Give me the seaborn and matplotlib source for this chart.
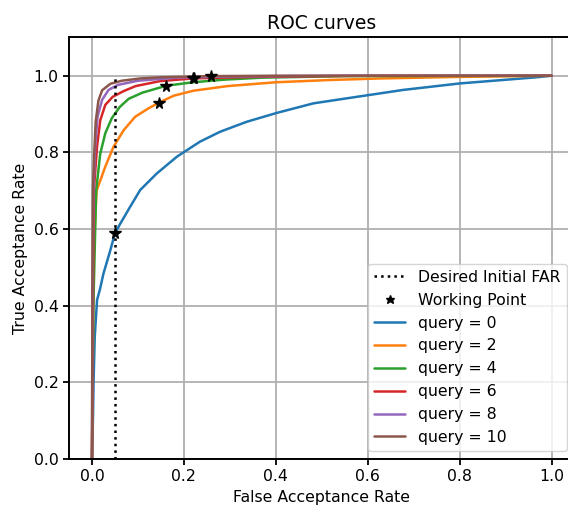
import matplotlib
matplotlib.use('Agg')
import matplotlib.pyplot as plt
import seaborn as sns
import pandas as pd

# ROC curves (FAR, TAR) per query count
queries = [0, 2, 4, 6, 8, 10]

far_q0 = [0.0, 0.002, 0.0035, 0.006, 0.011, 0.017, 0.025, 0.040, 0.050, 0.062, 0.083, 0.105,
          0.141, 0.185, 0.235, 0.279, 0.337, 0.402, 0.482, 0.554, 0.627, 0.677, 0.801, 0.895, 0.967, 1.0]
tar_q0 = [0.0, 0.10, 0.206, 0.319, 0.415, 0.441, 0.484, 0.545, 0.589, 0.615, 0.658, 0.702,
          0.745, 0.789, 0.828, 0.854, 0.880, 0.903, 0.928, 0.941, 0.954, 0.963, 0.980, 0.989, 0.996, 1.0]

far_q2 = [0.0, 0.002, 0.004, 0.010, 0.029, 0.047, 0.069, 0.094, 0.123, 0.146, 0.178, 0.221,
          0.295, 0.400, 0.520, 0.630, 0.800, 1.0]
tar_q2 = [0.0, 0.30, 0.55, 0.70, 0.763, 0.815, 0.858, 0.893, 0.915, 0.930, 0.948, 0.961,
          0.973, 0.983, 0.989, 0.993, 0.997, 1.0]

far_q4 = [0.0, 0.003, 0.009, 0.018, 0.029, 0.043, 0.060, 0.080, 0.110, 0.162, 0.220, 0.290,
          0.370, 0.550, 1.0]
tar_q4 = [0.0, 0.40, 0.70, 0.797, 0.850, 0.889, 0.918, 0.940, 0.956, 0.974, 0.983, 0.990,
          0.995, 0.999, 1.0]

far_q6 = [0.0, 0.002, 0.004, 0.011, 0.018, 0.029, 0.045, 0.069, 0.095, 0.148, 0.220, 0.350, 0.600, 1.0]
tar_q6 = [0.0, 0.40, 0.70, 0.815, 0.884, 0.924, 0.945, 0.960, 0.973, 0.986, 0.993, 0.997, 1.0, 1.0]

far_q8 = [0.0, 0.001, 0.003, 0.007, 0.012, 0.022, 0.036, 0.056, 0.100, 0.185, 0.300, 0.500, 1.0]
tar_q8 = [0.0, 0.40, 0.70, 0.815, 0.893, 0.937, 0.963, 0.976, 0.987, 0.995, 0.998, 1.0, 1.0]

far_q10 = [0.0, 0.001, 0.002, 0.005, 0.008, 0.014, 0.022, 0.040, 0.065, 0.105, 0.150, 0.258, 0.400, 1.0]
tar_q10 = [0.0, 0.45, 0.70, 0.80, 0.88, 0.935, 0.962, 0.979, 0.987, 0.993, 0.996, 0.999, 1.0, 1.0]

# working points (one per query)
wp_far = [0.050, 0.146, 0.162, 0.220, 0.221, 0.258]
wp_tar = [0.589, 0.930, 0.974, 0.993, 0.995, 0.999]

desired_far = 0.05

curves = {0: (far_q0, tar_q0), 2: (far_q2, tar_q2), 4: (far_q4, tar_q4),
          6: (far_q6, tar_q6), 8: (far_q8, tar_q8), 10: (far_q10, tar_q10)}

rows = []
for q in queries:
    fx, ty = curves[q]
    for a, b in zip(fx, ty):
        rows.append({'far': a, 'tar': b, 'query': f'query = {q}'})
df = pd.DataFrame(rows)

sns.set_style('ticks', {'axes.grid': True, 'axes.edgecolor': 'black',
                        'grid.color': '#b0b0b0', 'text.color': 'black',
                        'xtick.color': 'black', 'ytick.color': 'black',
                        'axes.labelcolor': 'black'})
plt.rcParams['font.family'] = ['DejaVu Sans']
plt.rcParams['grid.linewidth'] = 1.3
plt.rcParams['axes.linewidth'] = 1.4
plt.rcParams['xtick.major.size'] = 4
plt.rcParams['ytick.major.size'] = 4
plt.rcParams['xtick.major.width'] = 1.3
plt.rcParams['ytick.major.width'] = 1.3
plt.rcParams['xtick.labelsize'] = 11.3
plt.rcParams['ytick.labelsize'] = 11.3

fig = plt.figure(figsize=(5.68, 5.07), dpi=100)
# axes runs a bit past the right edge, like the cropped reference
ax = fig.add_axes([0.1215, 0.0947, 0.890, 0.8315])

hue_order = [f'query = {q}' for q in queries]
sns.lineplot(data=df, x='far', y='tar', hue='query', hue_order=hue_order,
             palette='tab10', estimator=None, sort=False, linewidth=1.8,
             legend=False, ax=ax)
curve_lines = list(ax.lines)

far_line, = ax.plot([desired_far, desired_far], [0, 1], ':', color='black',
                    linewidth=1.8, label='Desired Initial FAR')
wp, = ax.plot(wp_far, wp_tar, '*', color='black', markersize=8.5,
              linestyle='none', label='Working Point', zorder=5)

for ln, lab in zip(curve_lines, hue_order):
    ln.set_label(lab)

ax.spines['right'].set_visible(False)
ax.set_xlim(-0.05, 1.05)
ax.set_ylim(0, 1.1)
ax.set_xticks([0.0, 0.2, 0.4, 0.6, 0.8, 1.0])
ax.set_yticks([0.0, 0.2, 0.4, 0.6, 0.8, 1.0])
ax.set_xlabel('False Acceptance Rate', fontsize=11.3)
ax.set_ylabel('True Acceptance Rate', fontsize=11.3)
ax.set_title('ROC curves', fontsize=13.5)
ax.legend(handles=[far_line, wp] + curve_lines, loc='lower right',
          fontsize=11.3, markerscale=0.75)

fig.savefig('out.png', dpi=100)
